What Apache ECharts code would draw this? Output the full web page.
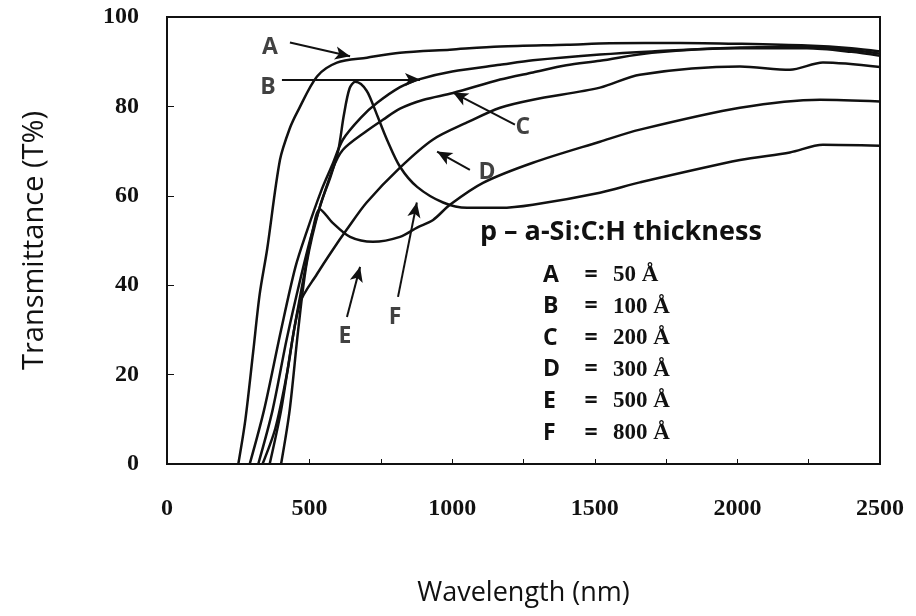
<!DOCTYPE html>
<html>
<head>
<meta charset="utf-8">
<script src="https://cdn.jsdelivr.net/npm/echarts@6/dist/echarts.min.js"></script>
<style>
  html, body { margin: 0; padding: 0; background: #fff; }
  #chart { width: 916px; height: 616px; }
</style>
</head>
<body>
<div id="chart"></div>
<script>
// transmittance curves, [wavelength nm, T %]
const curveA = [[250,0],[275,10],[302,25],[325,38],[351,48],[396,68],[430,75],[459,79],[526,86.7],[596,89.8],[701,90.9],[817,92],[992,92.7],[1168,93.4],[1403,93.8],[1553,94.1],[1800,94.2],[2009,94],[2244,93.6],[2400,93],[2500,92.3]];
const curveB = [[290,0],[340,12],[400,30],[450,44],[490,52],[540,61],[580,67],[617,72.6],[680,77.5],[737,80.8],[817,84.3],[880,86],[1000,87.8],[1168,89.3],[1283,90.3],[1518,91.6],[1700,92.3],[2009,93.2],[2244,93.3],[2400,92.6],[2500,91.8]];
const curveC = [[320,0],[370,12],[420,28],[470,42],[510,52],[580,65.8],[617,70.3],[700,74.5],[757,77],[817,79.5],[900,81.5],[1003,83],[1168,86],[1283,87.6],[1400,89.2],[1518,90.2],[1700,92],[2009,93],[2244,93],[2400,92.2],[2500,91.3]];
const curveD = [[335,0],[380,8],[420,20],[466,36],[526,42.5],[582,48],[631,52.5],[700,58.5],[817,66.3],[933,72.6],[1052,76.4],[1168,79.7],[1283,81.5],[1518,84.2],[1658,87.1],[2009,88.9],[2184,88.2],[2300,89.8],[2500,88.8]];
const curveE = [[360,0],[400,12],[440,28],[480,42],[510,52],[536,57],[580,54],[642,50.8],[722,49.7],[817,50.8],[877,52.9],[933,54.6],[992,58],[1108,62.9],[1283,67.4],[1518,72.1],[1658,74.8],[2009,79.7],[2290,81.5],[2500,81.1]];
const curveF = [[400,0],[430,12],[460,30],[490,45],[536,57.6],[572,64],[600,70],[620,78],[640,84],[660,85.5],[680,85],[700,83.5],[712,82],[740,77.5],[771,72.6],[817,66.5],[877,62],[968,58.5],[1052,57.3],[1168,57.3],[1283,58],[1518,60.7],[1658,63],[2009,68],[2184,69.7],[2300,71.4],[2500,71.2]];

const curveNames = ['A', 'B', 'C', 'D', 'E', 'F'];
const thickness = ['50', '100', '200', '300', '500', '800'];

// letter label positions and arrows (data coords)
const labelPos = [[361,93.2],[354,84.2],[1248,75.2],[1122,65.2],[624,28.5],[800,32.7]];
const arrowFrom = [[431,94.3],[403,86],[1220,75.9],[1062,65.8],[631,32.9],[810,37.4]];
const arrowTo = [[642,91.2],[887,86],[1003,83.1],[947,69.9],[677,44.1],[876,58.5]];

const chart = echarts.init(document.getElementById('chart'));

const lineSeries = [curveA, curveB, curveC, curveD, curveE, curveF].map((d, i) => ({
  name: curveNames[i],
  type: 'line',
  data: d,
  showSymbol: false,
  smooth: 0.3,
  silent: true,
  lineStyle: { color: '#111', width: 2.5 }
}));

const legendFont = 'bold 23px "Open Sans"';
const legendGraphics = [{
  type: 'text', x: 480, y: 232,
  style: { text: 'p – a-Si:C:H thickness', font: 'bold 27px "Open Sans"', fill: '#111', verticalAlign: 'middle' }
}];
curveNames.forEach((n, i) => {
  const y = 275 + i * 31.6;
  legendGraphics.push({ type: 'text', x: 543, y: y, style: { text: n, font: legendFont, fill: '#111', verticalAlign: 'middle' } });
  legendGraphics.push({ type: 'text', x: 591, y: y, style: { text: '=', font: legendFont, fill: '#111', align: 'center', verticalAlign: 'middle' } });
  legendGraphics.push({ type: 'text', x: 613, y: y, style: { text: thickness[i] + ' Å', font: 'bold 23px "Liberation Serif"', fill: '#111', verticalAlign: 'middle' } });
});

chart.setOption({
  animation: false,
  backgroundColor: '#fff',
  grid: { left: 167, right: 36, top: 17, bottom: 152, show: true, borderColor: '#111', borderWidth: 2 },
  xAxis: {
    type: 'value', min: 0, max: 2500, interval: 250,
    name: 'Wavelength (nm)', nameLocation: 'middle', nameGap: 116,
    nameTextStyle: { fontFamily: 'Open Sans', fontSize: 27, color: '#111' },
    axisLine: { lineStyle: { color: '#111', width: 2 } },
    axisTick: { inside: true, length: 5, lineStyle: { color: '#111' } },
    splitLine: { show: false },
    axisLabel: {
      margin: 33, color: '#111', fontFamily: 'Liberation Serif', fontWeight: 'bold', fontSize: 24,
      formatter: v => (v % 500 === 0 ? String(v) : '')
    }
  },
  yAxis: {
    type: 'value', min: 0, max: 100, interval: 20,
    name: 'Transmittance (T%)', nameLocation: 'middle', nameGap: 118,
    nameTextStyle: { fontFamily: 'Open Sans', fontSize: 29, color: '#111' },
    axisLine: { lineStyle: { color: '#111', width: 2 } },
    axisTick: { inside: true, length: 7, lineStyle: { color: '#111' } },
    splitLine: { show: false },
    axisLabel: { margin: 28, color: '#111', fontFamily: 'Liberation Serif', fontWeight: 'bold', fontSize: 24 }
  },
  series: lineSeries.concat([{
    type: 'scatter',
    silent: true,
    symbolSize: 1,
    itemStyle: { color: 'transparent' },
    data: labelPos.map((p, i) => ({ name: curveNames[i], value: p })),
    label: {
      show: true, position: 'inside', formatter: '{b}',
      fontFamily: 'Open Sans', fontWeight: 'bold', fontSize: 23, color: '#111'
    },
    markLine: {
      silent: true,
      symbol: ['none', 'arrow'],
      symbolSize: [10, 15],
      label: { show: false },
      lineStyle: { color: '#111', width: 2, type: 'solid' },
      data: arrowFrom.map((p, i) => [{ coord: p }, { coord: arrowTo[i] }])
    }
  }]),
  graphic: legendGraphics
});
</script>
</body>
</html>
